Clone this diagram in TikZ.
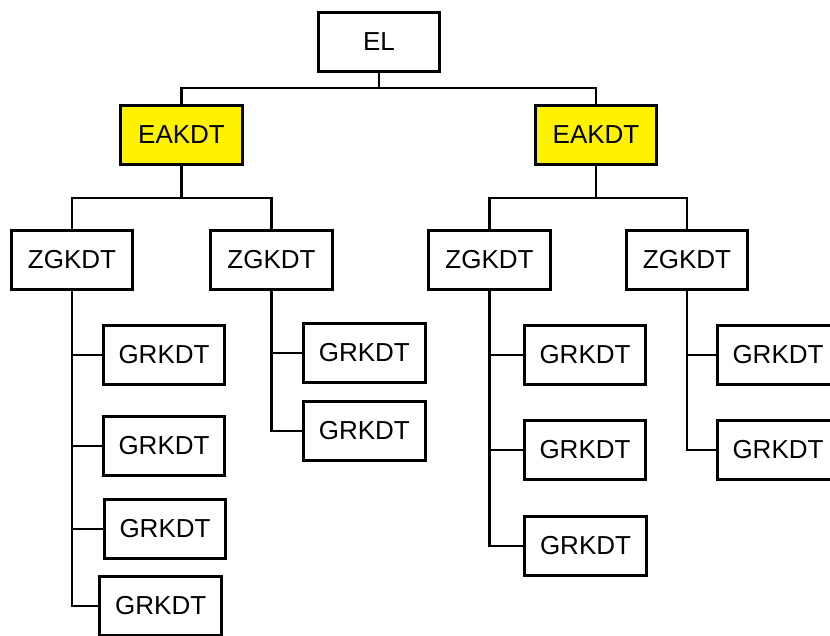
\documentclass[tikz,border=0pt]{standalone}
\usepackage{fontspec}
\setmainfont{Liberation Sans}
\begin{document}
\begin{tikzpicture}[x=1pt,y=-1pt,
  box/.style={draw=black,line width=3pt,minimum width=121.5pt,minimum height=59.5pt,inner sep=0pt,font=\fontsize{26}{29}\selectfont,fill=white},
  hl/.style={box,fill=yellow},
  conn/.style={draw=black,line width=2.8pt}]
\useasboundingbox (0,0) rectangle (830,635);
\clip (0,0) rectangle (830,635);
\node[box] (EL) at (379,42) {EL};
\node[hl] (EA1) at (181.5,135) {EAKDT};
\node[hl] (EA2) at (596,135) {EAKDT};
\node[box] (Z1) at (72,260) {ZGKDT};
\node[box] (Z2) at (271.5,260) {ZGKDT};
\node[box] (Z3) at (489.5,260) {ZGKDT};
\node[box] (Z4) at (687,260) {ZGKDT};
\node[box] (G1a) at (164,355) {GRKDT};
\node[box] (G1b) at (164,446) {GRKDT};
\node[box] (G1c) at (165,529) {GRKDT};
\node[box] (G1d) at (160.7,606) {GRKDT};
\node[box] (G2a) at (364.3,353) {GRKDT};
\node[box] (G2b) at (364.3,431) {GRKDT};
\node[box] (G3a) at (585,355) {GRKDT};
\node[box] (G3b) at (585,450) {GRKDT};
\node[box] (G3c) at (585.5,546) {GRKDT};
\node[box] (G4a) at (778,355) {GRKDT};
\node[box] (G4b) at (778,450) {GRKDT};
\coordinate (b0) at (379,88);
\coordinate (b1) at (181.5,198);
\coordinate (b2) at (596,198);
\begin{scope}[on background layer/.try]
\end{scope}
\draw[conn] (EL.south) -- (b0);
\draw[conn] (EA1.north) |- (b0) -| (EA2.north);
\draw[conn] (EA1.south) -- (b1);
\draw[conn] (Z1.north) |- (b1) -| (Z2.north);
\draw[conn] (EA2.south) -- (b2);
\draw[conn] (Z3.north) |- (b2) -| (Z4.north);
\draw[conn] (Z1.south) |- (G1d.west);
\draw[conn] (G1a.west) -- (G1a.west -| Z1.south);
\draw[conn] (G1b.west) -- (G1b.west -| Z1.south);
\draw[conn] (G1c.west) -- (G1c.west -| Z1.south);
\draw[conn] (Z2.south) |- (G2b.west);
\draw[conn] (G2a.west) -- (G2a.west -| Z2.south);
\draw[conn] (Z3.south) |- (G3c.west);
\draw[conn] (G3a.west) -- (G3a.west -| Z3.south);
\draw[conn] (G3b.west) -- (G3b.west -| Z3.south);
\draw[conn] (Z4.south) |- (G4b.west);
\draw[conn] (G4a.west) -- (G4a.west -| Z4.south);
\end{tikzpicture}
\end{document}
